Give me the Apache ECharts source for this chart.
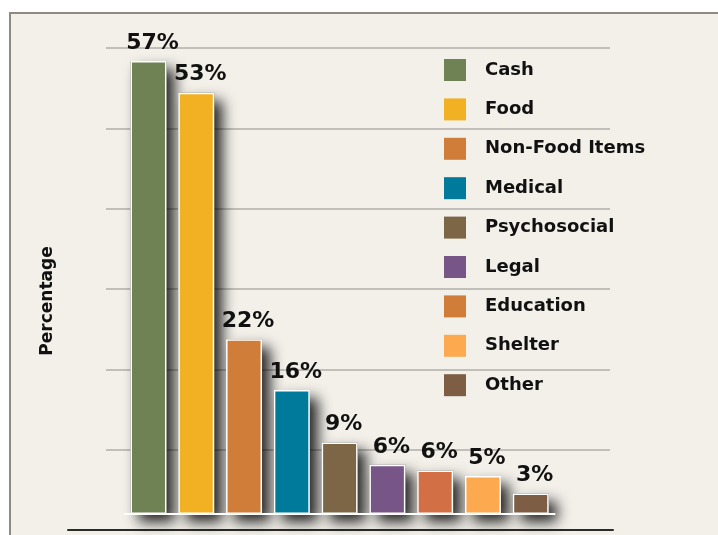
<!DOCTYPE html>
<html>
<head>
<meta charset="utf-8">
<script src="https://cdn.jsdelivr.net/npm/echarts@6/dist/echarts.min.js"></script>
<style>
  html, body { margin: 0; padding: 0; background: #fff; }
  #chart { width: 718px; height: 535px; }
</style>
</head>
<body>
<div id="chart"></div>
<script>
// categories and values
const categories = ["Cash", "Food", "Non-Food Items", "Medical", "Psychosocial", "Legal", "Education", "Shelter", "Other"];
const values = [57, 53, 22, 15.6, 9, 6.2, 5.5, 4.8, 2.6];
const colors = ["#6e8254", "#f2b123", "#d17d3a", "#007a9a", "#7d6646", "#785587", "#d26f45", "#fca94f", "#7d5e45"];
const legendColors = ["#6e8254", "#f2b123", "#d07d3a", "#007a9a", "#7d6646", "#785587", "#d07d3a", "#fca94f", "#7d5e45"];

const FONT = "DejaVu Sans";

const chart = echarts.init(document.getElementById("chart"));

// soft drop shadow drawn under the bars
const shadowSeries = {
  name: "_shadow",
  type: "bar",
  xAxisIndex: 1,
  yAxisIndex: 1,
  barWidth: 36,
  barGap: "-100%",
  silent: true,
  z: 1,
  data: values,
  itemStyle: {
    color: "#4a4a4a",
    shadowBlur: 14,
    shadowColor: "rgba(0,0,0,0.85)",
    shadowOffsetX: 8,
    shadowOffsetY: 8,
  },
};

// one series per category so each gets its own legend entry
const barSeries = categories.map((name, i) => ({
  name: name,
  type: "bar",
  xAxisIndex: 1,
  yAxisIndex: 1,
  barWidth: 36,
  barGap: "-100%",
  z: 3,
  data: categories.map((c, j) => (j === i ? values[i] : "-")),
  itemStyle: {
    color: colors[i],
    borderColor: "#fff",
    borderWidth: 1.5,
  },
  label: {
    show: true,
    position: "top",
    distance: 7,
    offset: [4, 0],
    color: "#111",
    fontFamily: FONT,
    fontWeight: "bold",
    fontSize: 22,
    formatter: (p) => Math.round(p.value) + "%",
  },
}));

chart.setOption({
  backgroundColor: "#fff",
  animation: false,
  graphic: [
    {
      type: "rect",
      z: -10,
      silent: true,
      shape: { x: 10, y: 13, width: 720, height: 530 },
      style: { fill: "#f3f0ea", stroke: "#8f8a82", lineWidth: 2 },
    },
  ],
  legend: {
    orient: "vertical",
    left: 444,
    top: 59,
    padding: 0,
    itemWidth: 22,
    itemHeight: 22,
    itemGap: 17.4,
    icon: "rect",
    data: categories.map((name, i) => ({
      name: name,
      itemStyle: { color: legendColors[i], borderWidth: 0 },
    })),
    textStyle: {
      color: "#111",
      fontFamily: FONT,
      fontWeight: "bold",
      fontSize: 18,
      padding: [0, 0, 0, 14],
    },
  },
  grid: [
    // background gridlines
    { left: 106, right: 108, top: 48, bottom: 5 },
    // bars
    { left: 124.6, right: 163.4, top: 48, bottom: 5 },
    // dark bottom rule
    { left: 68, right: 105, top: 48, bottom: 5 },
  ],
  xAxis: [
    { type: "value", gridIndex: 0, show: false },
    {
      type: "category",
      gridIndex: 1,
      data: categories,
      axisLine: { show: true, lineStyle: { color: "#fff", width: 2 } },
      axisTick: { show: false },
      axisLabel: { show: false },
      z: 4,
    },
    {
      type: "value",
      gridIndex: 2,
      axisLine: { show: true, lineStyle: { color: "#2b2b2b", width: 2 } },
      axisTick: { show: false },
      axisLabel: { show: false },
      splitLine: { show: false },
    },
  ],
  yAxis: [
    {
      type: "value",
      gridIndex: 0,
      min: 0,
      max: 6,
      interval: 1,
      axisLine: { show: false },
      axisTick: { show: false },
      axisLabel: { show: false },
      splitLine: { lineStyle: { color: "#b2aea8", width: 1.5 } },
      name: "Percentage",
      nameLocation: "middle",
      nameRotate: 90,
      nameGap: 50,
      nameTextStyle: {
        color: "#111",
        fontFamily: FONT,
        fontWeight: "bold",
        fontSize: 17,
        padding: [0, 24, 0, 0],
      },
    },
    {
      type: "value",
      gridIndex: 1,
      min: -2,
      max: 58.63,
      show: false,
      splitLine: { show: false },
    },
    {
      type: "value",
      gridIndex: 2,
      show: false,
      splitLine: { show: false },
    },
  ],
  series: [shadowSeries].concat(barSeries),
});
</script>
</body>
</html>
